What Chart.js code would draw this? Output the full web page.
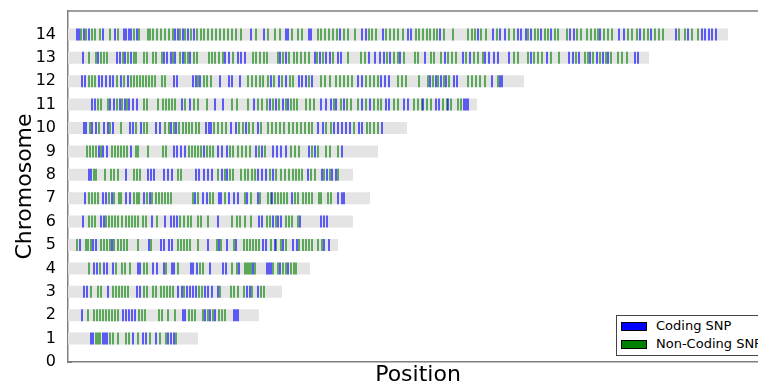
<!DOCTYPE html>
<html><head><meta charset="utf-8">
<script src="https://cdn.jsdelivr.net/npm/chart.js@4/dist/chart.umd.min.js"></script>
<style>
html,body{margin:0;padding:0;overflow:hidden;background:#fff;width:758px;height:386px}
#wrap{position:relative;width:780px;height:386px}
#legend{position:absolute;left:616px;top:315px;width:152px;height:41px;box-sizing:border-box;border:1px solid #444;background:#fff;font:13px "DejaVu Sans";color:#000}
.sw{position:absolute;left:4px;width:26px;height:9px;box-sizing:border-box;border:1px solid #000}
.tx{position:absolute;left:39px;line-height:16px;white-space:nowrap}
</style></head>
<body>
<div id="wrap">
<canvas id="c" width="780" height="386"></canvas>
<div id="legend">
 <div class="sw" style="top:6px;background:#0000ff"></div><div class="tx" style="top:2px">Coding SNP</div>
 <div class="sw" style="top:24px;background:#008000"></div><div class="tx" style="top:20px">Non-Coding SNP</div>
</div>
</div>
<script>
// Chromosomes and their lengths (kb)
const chromosomes = [1,2,3,4,5,6,7,8,9,10,11,12,13,14];
const chromLengthKb = [650,955,1070,1210,1350,1425,1510,1425,1550,1695,2045,2280,2905,3300];

// SNP positions (kb) per chromosome
const coding1 = [115,125,175,185,195,325,375,390,440,500,515,530];
const nonCoding1 = [140,150,160,210,225,250,290,305,350,410,460,490,540];
const coding2 = [70,275,290,305,320,335,575,585,685,710,735,830,840,850];
const nonCoding2 = [100,130,145,160,175,190,205,220,235,250,355,370,385,455,470,500,535,605,620,635,675,700,725,755,770,785];
const coding3 = [80,95,200,345,360,550,570,595,610,625,640,685,700,720,750,895,910,950];
const nonCoding3 = [115,150,165,225,240,255,270,285,300,380,395,425,440,465,480,495,510,525,580,655,670,760,815,830,850,880,920,965,980];
const coding4 = [130,145,180,195,225,350,360,425,445,480,520,530,615,625,645,710,775,790,855,925,995,1005,1015,1060,1100];
const nonCoding4 = [105,160,240,270,285,310,380,395,490,550,660,675,820,845,885,895,905,915,935,1025,1050,1075,1090,1115,1130,1140];
const coding5 = [60,125,140,220,405,465,480,505,520,700,755,795,840,975,990,1035,1075,1125,1145,1280,1305];
const nonCoding5 = [45,90,100,115,165,180,195,210,230,250,265,280,295,350,415,550,565,580,595,610,650,745,765,830,880,895,910,925,940,955,1015,1040,1065,1090,1155,1175,1190,1205,1220,1250,1270];
const coding6 = [75,165,180,420,485,515,530,545,750,955,970,1025,1050,1065,1160,1265,1280,1295];
const nonCoding6 = [105,120,135,190,205,220,235,250,270,290,305,320,335,350,375,390,445,560,580,600,615,650,665,700,820,845,860,885,915,995,1010,1040,1090,1105,1120,1150];
const coding7 = [85,175,190,220,290,310,380,410,635,675,695,755,765,805,830,850,895,950,1020,1120,1350,1370,1380];
const nonCoding7 = [105,120,135,150,205,230,255,265,330,345,355,395,420,440,455,470,485,500,515,625,650,710,725,785,885,915,960,1000,1015,1035,1050,1065,1080,1095,1135,1150,1175,1190,1205,1220,1255,1265,1300,1315];
const coding8 = [105,115,290,400,415,430,480,500,520,640,655,680,700,720,770,795,950,970,990,1025,1200,1270,1295,1320,1340];
const nonCoding8 = [130,140,185,215,230,250,330,345,360,550,565,750,785,810,825,865,885,900,920,935,1010,1040,1065,1085,1105,1125,1140,1155,1170,1215,1235,1280,1310,1350];
const coding9 = [155,175,195,315,530,545,565,585,680,750,770,795,940,970,1025,1045,1065,1090,1205,1235,1370];
const nonCoding9 = [95,110,125,140,165,220,235,250,265,280,295,340,350,400,475,490,605,620,635,650,665,695,710,725,810,825,850,870,890,910,955,985,1115,1135,1155,1220,1250,1290,1310,1350];
const coding10 = [80,90,120,140,180,200,225,310,325,365,440,460,515,540,690,705,715,815,840,890,950,1250,1275,1330,1350,1370,1390,1410,1455,1470,1570];
const nonCoding10 = [110,155,210,265,340,380,395,485,505,530,555,575,590,605,620,640,655,730,750,770,790,855,875,905,925,965,1000,1020,1040,1060,1080,1105,1125,1145,1165,1185,1205,1220,1290,1315,1430,1495,1510,1530,1550];
const coding11 = [120,135,210,230,260,285,305,325,345,570,610,735,775,930,1010,1040,1075,1100,1265,1290,1315,1340,1380,1470,1510,1590,1605,1680,1700,1775,1840,1855,1900,1980,1990,2000];
const nonCoding11 = [150,165,200,245,270,295,380,395,450,475,490,505,520,535,585,630,650,695,820,845,900,950,970,995,1025,1055,1090,1115,1130,1145,1190,1210,1230,1330,1365,1395,1415,1450,1490,1530,1550,1565,1630,1650,1730,1750,1770,1795,1815,1875,1895,1915,1950,1965];
const coding12 = [70,85,155,170,190,210,225,265,300,530,545,625,640,660,760,805,820,860,1015,1055,1090,1155,1170,1190,1220,1450,1470,1565,1585,1605,1810,1840,1865,1890,1930,1945,2120,2160,2170];
const nonCoding12 = [105,120,135,245,280,315,330,345,360,375,390,405,420,435,470,485,650,680,695,715,900,920,940,960,975,1000,1030,1070,1110,1125,1205,1265,1285,1310,1340,1360,1380,1400,1420,1490,1510,1530,1550,1650,1670,1690,1755,1800,1825,1850,1880,1905,2000,2020,2040,2060,2085,2150];
const coding13 = [75,150,245,260,285,315,480,495,515,535,575,610,785,805,850,865,885,1060,1090,1235,1260,1290,1310,1350,1365,1505,1535,1560,1580,1610,1660,1785,1885,1975,2010,2085,2105,2130,2150,2205,2315,2395,2505,2525,2555,2610,2645,2675,2700,2835,2850];
const nonCoding13 = [105,140,165,180,195,275,300,330,340,380,395,425,440,470,525,560,585,600,630,645,705,720,735,755,775,825,925,940,960,980,995,1050,1075,1105,1130,1145,1165,1185,1205,1245,1275,1325,1400,1465,1485,1595,1630,1650,1680,1735,1750,1815,1830,1865,1900,1920,1940,1990,2030,2050,2075,2230,2250,2300,2330,2350,2370,2415,2455,2540,2585,2600,2625,2660,2690,2715,2750,2770,2795];
const coding14 = [45,55,80,105,175,235,280,290,305,315,345,535,550,575,600,630,915,980,1090,1100,1205,1215,1360,1470,1490,1575,1700,1715,1860,2050,2125,2160,2185,2250,2265,2290,2315,2365,2415,2510,2530,2660,2755,2780,2860,2915,3040,3100,3170,3185,3205,3220,3240];
const nonCoding14 = [65,90,120,135,160,210,250,330,355,400,410,425,445,465,485,505,525,560,585,615,645,665,680,700,720,740,760,780,800,820,840,865,940,1000,1035,1060,1120,1150,1170,1250,1265,1285,1305,1325,1345,1380,1400,1435,1505,1520,1540,1590,1610,1630,1650,1675,1740,1755,1775,1795,1810,1830,1845,1880,1925,2000,2020,2035,2065,2090,2145,2205,2230,2300,2335,2350,2385,2400,2435,2450,2495,2545,2565,2595,2615,2635,2650,2680,2700,2720,2800,2820,2845,2880,2900,2935,2955,2975,3055,3085,3120,3150];

const codingByChrom = [coding1,coding2,coding3,coding4,coding5,coding6,coding7,coding8,coding9,coding10,coding11,coding12,coding13,coding14];
const nonCodingByChrom = [nonCoding1,nonCoding2,nonCoding3,nonCoding4,nonCoding5,nonCoding6,nonCoding7,nonCoding8,nonCoding9,nonCoding10,nonCoding11,nonCoding12,nonCoding13,nonCoding14];
const yTickLabels = [0,1,2,3,4,5,6,7,8,9,10,11,12,13,14];

Chart.defaults.font.family = '"DejaVu Sans", sans-serif';

const toPoints = (lists) => lists.flatMap((arr, i) => arr.map(x => ({x: x, y: chromosomes[i]})));

const snpStyle = (color, order, label, lists) => ({
  label: label,
  data: toPoints(lists),
  order: order,
  showLine: false,
  pointStyle: 'line',
  pointRotation: 90,
  pointRadius: 6,
  pointHoverRadius: 6,
  pointBorderWidth: 2,
  pointHoverBorderWidth: 2,
  borderColor: color,
  backgroundColor: color,
  pointBorderColor: color,
  pointBackgroundColor: color
});

const chromBars = chromosomes.map((c, i) => ({
  label: 'chr' + c,
  data: [{x: 0, y: c}, {x: chromLengthKb[i], y: c}],
  showLine: true,
  order: 10,
  borderColor: '#e4e4e4',
  borderWidth: 12,
  borderCapStyle: 'butt',
  pointRadius: 0,
  pointHoverRadius: 0
}));

const frame = {
  id: 'frame',
  afterDraw(chart) {
    const {ctx, chartArea: a} = chart;
    ctx.save();
    ctx.strokeStyle = '#808080';
    ctx.lineWidth = 1.5;
    ctx.beginPath();
    ctx.moveTo(a.left, a.top);
    ctx.lineTo(a.right, a.top);
    ctx.lineTo(a.right, a.bottom);
    ctx.stroke();
    ctx.restore();
  }
};

new Chart(document.getElementById('c'), {
  type: 'scatter',
  data: {
    datasets: [
      snpStyle('rgba(0,0,255,0.6)', 1, 'Coding SNP', codingByChrom),
      snpStyle('rgba(0,128,0,0.6)', 2, 'Non-Coding SNP', nonCodingByChrom),
      ...chromBars
    ]
  },
  options: {
    responsive: false,
    animation: false,
    devicePixelRatio: 1,
    layout: {padding: {top: 11, right: 12, left: 0, bottom: 0}},
    plugins: {legend: {display: false}, tooltip: {enabled: false}},
    events: [],
    scales: {
      x: {
        type: 'linear', min: 0, max: 3500,
        ticks: {display: false},
        grid: {display: false},
        border: {display: true, color: '#808080', width: 1.5},
        title: {display: true, text: 'Position', color: '#000',
                font: {size: 22, lineHeight: 1}, padding: {top: 0, bottom: 0}},
        afterFit: (s) => { s.height = 24; s.paddingLeft = 0; s.paddingRight = 0; }
      },
      y: {
        type: 'linear', min: 0, max: 15,
        afterBuildTicks: (s) => { s.ticks = yTickLabels.map(v => ({value: v})); },
        ticks: {color: '#000', font: {size: 16}, padding: 16},
        grid: {display: true, drawOnChartArea: false, drawTicks: true, tickLength: -4, color: '#808080'},
        border: {display: true, color: '#808080', width: 1.5},
        title: {display: true, text: 'Chromosome', color: '#000',
                font: {size: 22}, padding: {top: 12, bottom: 0}},
        afterFit: (s) => { s.width = 68; s.paddingTop = 0; s.paddingBottom = 0; }
      }
    }
  },
  plugins: [frame]
});
</script>
</body></html>
